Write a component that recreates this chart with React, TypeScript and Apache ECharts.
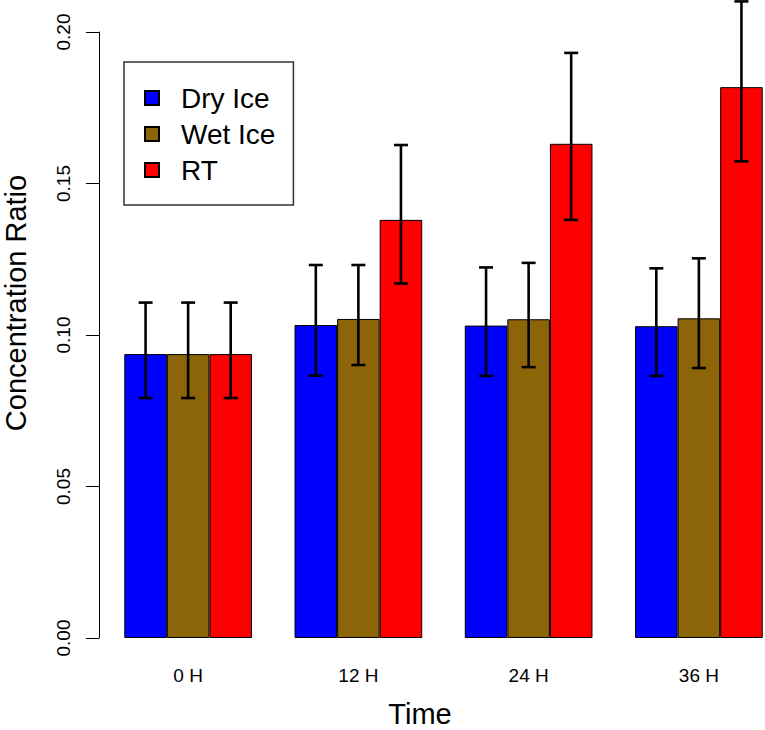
import React, { useEffect, useRef } from 'react';
import * as echarts from 'echarts';

const categories = ['0 H', '12 H', '24 H', '36 H'];
const seriesNames = ['Dry Ice', 'Wet Ice', 'RT'];
const seriesColors = ['#0000FF', '#8B6508', '#FF0000'];

const dryIce = [0.0937, 0.1033, 0.1031, 0.1029];
const wetIce = [0.0937, 0.1053, 0.1052, 0.1055];
const rt = [0.0937, 0.138, 0.1631, 0.1818];

const dryLow = [0.0792, 0.0866, 0.0865, 0.0865];
const dryHigh = [0.1107, 0.1231, 0.1223, 0.122];
const wetLow = [0.0792, 0.0901, 0.0894, 0.0891];
const wetHigh = [0.1107, 0.1231, 0.1238, 0.1253];
const rtLow = [0.0792, 0.117, 0.138, 0.1573];
const rtHigh = [0.1107, 0.1627, 0.1931, 0.2101];

const yMin = 0;
const yMax = 0.2;
const yInterval = 0.05;

const xTitle = 'Time';
const yTitle = 'Concentration Ratio';

export default function App() {
  const ref = useRef<HTMLDivElement>(null);
  useEffect(() => {
    const chart = echarts.init(ref.current!, null, { renderer: 'svg' });
    const font = 'Liberation Sans, Arial, Helvetica, sans-serif';
    const means = [dryIce, wetIce, rt];
    const lows = [dryLow, wetLow, rtLow];
    const highs = [dryHigh, wetHigh, rtHigh];

    const barSeries = seriesNames.map((name, s) => ({
      type: 'bar',
      name,
      data: means[s],
      barWidth: '25%',
      barGap: '0%',
      itemStyle: { color: seriesColors[s], borderColor: '#000', borderWidth: 1 },
      z: 2,
    }));

    const errSeries = seriesNames.map((name, s) => ({
      type: 'custom',
      name: name + ' error',
      data: categories.map((_, i) => [i, lows[s][i], highs[s][i]]),
      encode: { x: 0, y: [1, 2] },
      clip: false,
      z: 5,
      renderItem: (params: any, api: any) => {
        const idx = api.value(0);
        const lo = api.value(1);
        const hi = api.value(2);
        const band = api.size([1, 0])[0];
        const bw = band * 0.25;
        const cx = api.coord([idx, 0])[0] + (s - 1) * bw;
        const yLo = api.coord([idx, lo])[1];
        const yHi = api.coord([idx, hi])[1];
        const cap = 7;
        const style = { stroke: '#000', lineWidth: 2.6 };
        return {
          type: 'group',
          children: [
            { type: 'line', shape: { x1: cx, y1: yHi, x2: cx, y2: yLo }, style },
            { type: 'line', shape: { x1: cx - cap, y1: yHi, x2: cx + cap, y2: yHi }, style },
            { type: 'line', shape: { x1: cx - cap, y1: yLo, x2: cx + cap, y2: yLo }, style },
          ],
        };
      },
    }));

    chart.setOption({
      animation: false,
      backgroundColor: '#fff',
      textStyle: { fontFamily: font },
      grid: {
        left: 103,
        width: 681,
        top: 32,
        bottom: 92,
        containLabel: false,
        outerBoundsMode: 'none',
      },
      legend: {
        data: seriesNames,
        orient: 'vertical',
        left: 124,
        top: 62,
        itemWidth: 14,
        itemHeight: 14,
        itemGap: 6,
        icon: 'rect',
        borderColor: '#333',
        borderWidth: 1.5,
        borderRadius: 0,
        padding: [21, 18, 20, 20],
        textStyle: {
          fontFamily: font,
          fontSize: 28,
          color: '#000',
          lineHeight: 30,
          padding: [0, 0, 0, 17],
        },
      },
      xAxis: {
        type: 'category',
        data: categories,
        axisLine: { show: false },
        axisTick: { show: false },
        axisLabel: { fontSize: 19, color: '#000', margin: 28, fontFamily: font },
      },
      yAxis: {
        type: 'value',
        min: yMin,
        max: yMax,
        interval: yInterval,
        offset: 4,
        axisLine: { show: true, lineStyle: { color: '#000', width: 1 } },
        axisTick: { show: true, length: 13, lineStyle: { color: '#000', width: 1 } },
        splitLine: { show: false },
        axisLabel: {
          rotate: 90,
          fontSize: 19,
          color: '#000',
          margin: 26,
          fontFamily: font,
          formatter: (v: number) => v.toFixed(2),
        },
      },
      graphic: [
        {
          type: 'text',
          x: 420,
          y: 714,
          style: {
            text: xTitle,
            fontSize: 29,
            fontFamily: font,
            fill: '#000',
            align: 'center',
            verticalAlign: 'middle',
          },
        },
        {
          type: 'text',
          x: 16,
          y: 303,
          rotation: Math.PI / 2,
          style: {
            text: yTitle,
            fontSize: 29,
            fontFamily: font,
            fill: '#000',
            align: 'center',
            verticalAlign: 'middle',
          },
        },
      ],
      series: [...barSeries, ...errSeries],
    });
    return () => chart.dispose();
  }, []);
  return (
    <div
      ref={ref}
      style={{ position: 'absolute', left: 0, top: 0, width: 765, height: 730 }}
    />
  );
}
